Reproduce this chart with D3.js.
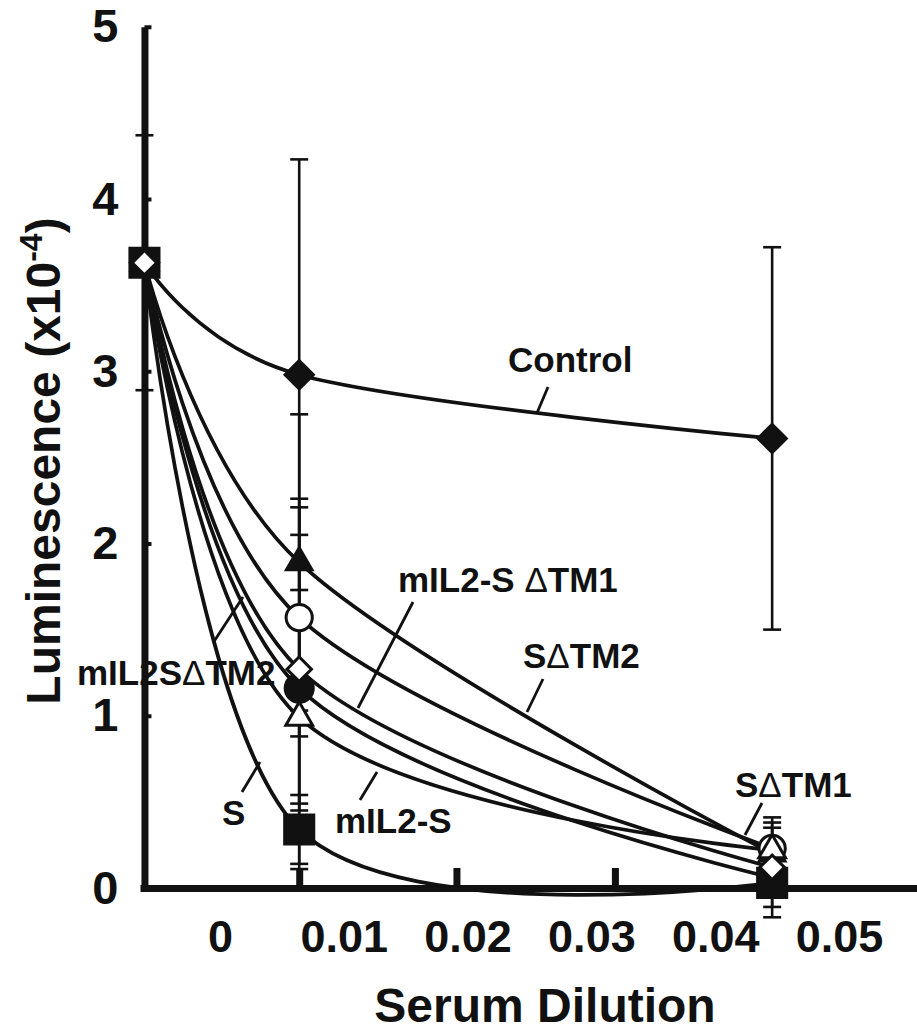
<!DOCTYPE html>
<html>
<head>
<meta charset="utf-8">
<script src="https://cdn.jsdelivr.net/npm/d3@7"></script>
<style>
body { margin: 0; background: #fff; }
text { font-family: "Liberation Sans", Arial, sans-serif; font-weight: bold; fill: #111; }
</style>
</head>
<body>
<div id="chart"></div>
<script>
const width = 917
const height = 1032

// x positions of the three measurements, axis tick marks and axis labels
const xPoints = [-0.0061, 0.0064, 0.0446]
const xTickMarks = [0.0064, 0.0191, 0.0319, 0.0446]
const xTickLabels = [0, 0.01, 0.02, 0.03, 0.04, 0.05]
const yTicks = [0, 1, 2, 3, 4, 5]

// luminescence (x10^-4) and error
const control = [3.63, 2.98, 2.61]
const controlErr = [0.74, 1.25, 1.11]
const sdtm2 = [3.63, 1.89, 0.20]
const sdtm2Err = [0, 0.86, 0]
const sdtm1 = [3.63, 1.57, 0.23]
const sdtm1Err = [0, 0.69, 0.18]
const mil2sdtm2 = [3.63, 1.16, 0.06]
const mil2sdtm2Err = [0, 1.05, 0]
const mil2sdtm1 = [3.63, 1.27, 0.12]
const mil2sdtm1Err = [0, 0.78, 0.23]
const mil2s = [3.63, 0.99, 0.22]
const mil2sErr = [0, 0.54, 0.16]
const sOnly = [3.63, 0.34, 0.03]
const sOnlyErr = [0, 0.20, 0.20]

// drawing order = bottom to top
const series = [
    { name: "Control", values: control, err: controlErr, shape: "diamond", filled: true, size: 530 },
    { name: "SΔTM2", values: sdtm2, err: sdtm2Err, shape: "triangle", filled: true, size: 410 },
    { name: "mIL2SΔTM2", values: mil2sdtm2, err: mil2sdtm2Err, shape: "circle", filled: true, size: 760 },
    { name: "SΔTM1", values: sdtm1, err: sdtm1Err, shape: "circle", filled: false, size: 540 },
    { name: "mIL2-S", values: mil2s, err: mil2sErr, shape: "triangle", filled: false, size: 310 },
    { name: "S", values: sOnly, err: sOnlyErr, shape: "square", filled: true, size: 1030 },
    { name: "mIL2-S ΔTM1", values: mil2sdtm1, err: mil2sdtm1Err, shape: "diamond", filled: false, size: 300 },
]

const labels = [
    { parts: ["Control"], x: 508, y: 372, lead: [[548, 387], [537, 413]] },
    { parts: ["mIL2-S ", "Δ", "TM1"], x: 398, y: 592, lead: [[413, 602], [358, 708]] },
    { parts: ["S", "Δ", "TM2"], x: 523, y: 668, lead: [[543, 679], [527, 712]] },
    { parts: ["S", "Δ", "TM1"], x: 735, y: 797, lead: [[762, 803], [745, 835]] },
    { parts: ["mIL2-S"], x: 335, y: 833, lead: [[377, 772], [360, 800]] },
    { parts: ["S"], x: 222, y: 825, lead: [[260, 762], [242, 792]] },
    { parts: ["mIL2S", "Δ", "TM2"], x: 77, y: 685, lead: [[213, 643], [243, 597]] },
]

const svg = d3.select("div#chart").append("svg").attr("width", width).attr("height", height)

const x = d3.scaleLinear().domain([-0.00646, 0.0563]).range([140, 917])
const y = d3.scaleLinear().domain([0, 5]).range([888, 26.75])

const symbols = {
    diamond: d3.symbolSquare,
    square: d3.symbolSquare,
    circle: d3.symbolCircle,
    triangle: d3.symbolTriangle,
}

// axes
const yAxisGroup = svg.append("g").attr("class", "yAxisGroup").attr("transform", `translate(${x(-0.0061)}, 0)`)
yAxisGroup.call(d3.axisLeft(y).tickValues(yTicks).tickSize(-7).tickSizeOuter(0).tickPadding(26).tickFormat(d3.format("d")))
yAxisGroup.select(".domain").attr("stroke-width", 7).attr("stroke", "#111")
yAxisGroup.selectAll(".tick line").attr("stroke-width", 4).attr("stroke", "#111")
yAxisGroup.selectAll(".tick text").attr("font-size", 47).attr("fill", "#111")

const xMarkGroup = svg.append("g").attr("transform", `translate(0, ${y(0)})`)
xMarkGroup.call(d3.axisBottom(x).tickValues(xTickMarks).tickSize(-20).tickSizeOuter(0).tickFormat(""))
xMarkGroup.select(".domain").attr("stroke-width", 7).attr("stroke", "#111")
xMarkGroup.selectAll(".tick line").attr("stroke-width", 7).attr("stroke", "#111")

const xLabelGroup = svg.append("g").attr("transform", `translate(0, ${y(0)})`)
xLabelGroup.call(d3.axisBottom(x).tickValues(xTickLabels).tickSize(0).tickPadding(32)
    .tickFormat(d => d === 0 ? "0" : d3.format(".2f")(d)))
xLabelGroup.select(".domain").remove()
xLabelGroup.selectAll(".tick text").attr("font-size", 45).attr("fill", "#111")

// axis titles
svg.append("text")
    .attr("x", 545).attr("y", 1022)
    .attr("text-anchor", "middle").attr("font-size", 48)
    .text("Serum Dilution")

const yTitle = svg.append("text")
    .attr("transform", "translate(60, 461) rotate(-90)")
    .attr("text-anchor", "middle").attr("font-size", 48)
yTitle.append("tspan").text("Luminescence (x10")
yTitle.append("tspan").attr("font-size", 32).attr("dy", -18).text("-4")
yTitle.append("tspan").attr("dy", 18).text(")")

const elementGroup = svg.append("g").attr("class", "elementGroup")

// curves
const line = d3.line()
    .x((d, i) => x(xPoints[i]))
    .y(d => y(d))
    .curve(d3.curveCardinal.tension(0))

elementGroup.selectAll("path.curve").data(series).enter()
    .append("path")
    .attr("class", "curve")
    .attr("d", d => line(d.values))
    .attr("fill", "none")
    .attr("stroke", "#111")
    .attr("stroke-width", 3.7)

// error bars
series.forEach(s => {
    s.values.forEach((v, i) => {
        const e = s.err[i]
        if (!e) return
        const cx = x(xPoints[i])
        const g = elementGroup.append("g").attr("stroke", "#111").attr("stroke-width", 2.6)
        g.append("line").attr("x1", cx).attr("x2", cx).attr("y1", y(v + e)).attr("y2", y(v - e))
        g.append("line").attr("x1", cx - 9).attr("x2", cx + 9).attr("y1", y(v + e)).attr("y2", y(v + e))
        g.append("line").attr("x1", cx - 9).attr("x2", cx + 9).attr("y1", y(v - e)).attr("y2", y(v - e))
    })
})

// markers
series.forEach(s => {
    const sym = d3.symbol().type(symbols[s.shape]).size(s.size)
    elementGroup.selectAll(null).data(s.values).enter()
        .append("path")
        .attr("d", sym)
        .attr("transform", (d, i) => `translate(${x(xPoints[i])}, ${y(d)})` + (s.shape === "diamond" ? " rotate(45)" : ""))
        .attr("fill", s.filled ? "#111" : "#fff")
        .attr("stroke", "#111")
        .attr("stroke-width", s.filled ? 0 : 3)
})

// series labels with leader lines
labels.forEach(l => {
    svg.append("line")
        .attr("x1", l.lead[0][0]).attr("y1", l.lead[0][1])
        .attr("x2", l.lead[1][0]).attr("y2", l.lead[1][1])
        .attr("stroke", "#111").attr("stroke-width", 2.8)
    const t = svg.append("text").attr("x", l.x).attr("y", l.y).attr("font-size", 35)
    l.parts.forEach(p => {
        const ts = t.append("tspan").text(p)
        if (p === "Δ") ts.attr("font-weight", "normal")
    })
})
</script>
</body>
</html>
